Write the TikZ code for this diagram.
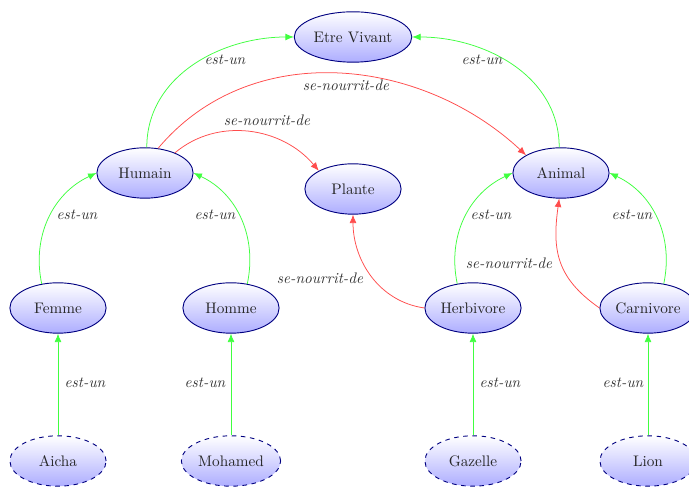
\documentclass[tikz,border=0pt]{standalone}
\usetikzlibrary{arrows.meta,shapes.geometric}
\tikzset{
  concept/.style={ellipse, draw=blue!50!black, line width=0.6pt, top color=white,
    bottom color=blue!32, inner sep=0pt, minimum width=63pt, minimum height=33pt,
    text=black!85, font=\normalsize},
  instance/.style={concept, dashed},
  isa/.style={draw=green!75, line width=0.5pt, -{Latex[length=5.5pt,width=4.5pt]}},
  eats/.style={draw=red!70, line width=0.5pt, -{Latex[length=5.5pt,width=4.5pt]}},
  lbl/.style={font=\itshape, text=black!80, inner sep=1pt},
}
\begin{document}
\begin{tikzpicture}[x=0.655pt, y=0.655pt]
  \clip (0,0) rectangle (689,487);

  % concepts
  \node[concept, minimum width=77pt] (ev) at (353,450) {Etre Vivant};
  \node[concept] (humain) at (145,314) {Humain};
  \node[concept] (plante) at (353,298) {Plante};
  \node[concept] (animal) at (561,314) {Animal};
  \node[concept] (femme) at (58,179) {Femme};
  \node[concept] (homme) at (231,179) {Homme};
  \node[concept] (herbi) at (473,179) {Herbivore};
  \node[concept] (carni) at (648,179) {Carnivore};

  % instances
  \node[instance] (aicha) at (58,26) {Aicha};
  \node[instance, minimum width=65pt] (mohamed) at (231,26) {Mohamed};
  \node[instance] (gazelle) at (473,26) {Gazelle};
  \node[instance] (lion) at (648,26) {Lion};

  % is-a links
  \draw[isa] (humain.86) to[out=90, in=180] (ev.west);
  \draw[isa] (animal.94) to[out=90, in=0] (ev.east);
  \draw[isa] (femme.124) to[out=102, in=205] (humain.west);
  \draw[isa] (homme.56) to[out=78, in=-25] (humain.east);
  \draw[isa] (herbi.123) to[out=102, in=205] (animal.west);
  \draw[isa] (carni.57) to[out=78, in=-25] (animal.east);
  \draw[isa] (aicha.north) -- (femme.south);
  \draw[isa] (mohamed.north) -- (homme.south);
  \draw[isa] (gazelle.north) -- (herbi.south);
  \draw[isa] (lion.north) -- (carni.south);

  % feeding links
  \draw[eats] (humain.62) to[out=50, in=137] (animal.153);
  \draw[eats] (humain.34) to[out=40, in=130] (plante.152);
  \draw[eats] (herbi.west) to[out=172, in=-90] (plante.south);
  \draw[eats] (carni.west) to[out=145, in=-98, looseness=1.15] (animal.266);

  % link labels
  \node[lbl] (l1) at (225,427) {est-un};
  \node[lbl] (l2) at (482,427) {est-un};
  \node[lbl] (l3) at (346,402) {se-nourrit-de};
  \node[lbl] (l4) at (267,367) {se-nourrit-de};
  \node[lbl] (l5) at (77,272) {est-un};
  \node[lbl] (l6) at (215,272) {est-un};
  \node[lbl] (l7) at (491,272) {est-un};
  \node[lbl] (l8) at (632,272) {est-un};
  \node[lbl] (l9) at (320,209) {se-nourrit-de};
  \node[lbl] (l10) at (509,224) {se-nourrit-de};
  \node[lbl] (l11) at (85,104) {est-un};
  \node[lbl] (l12) at (205,104) {est-un};
  \node[lbl] (l13) at (500,104) {est-un};
  \node[lbl] (l14) at (623,104) {est-un};
\end{tikzpicture}
\end{document}
